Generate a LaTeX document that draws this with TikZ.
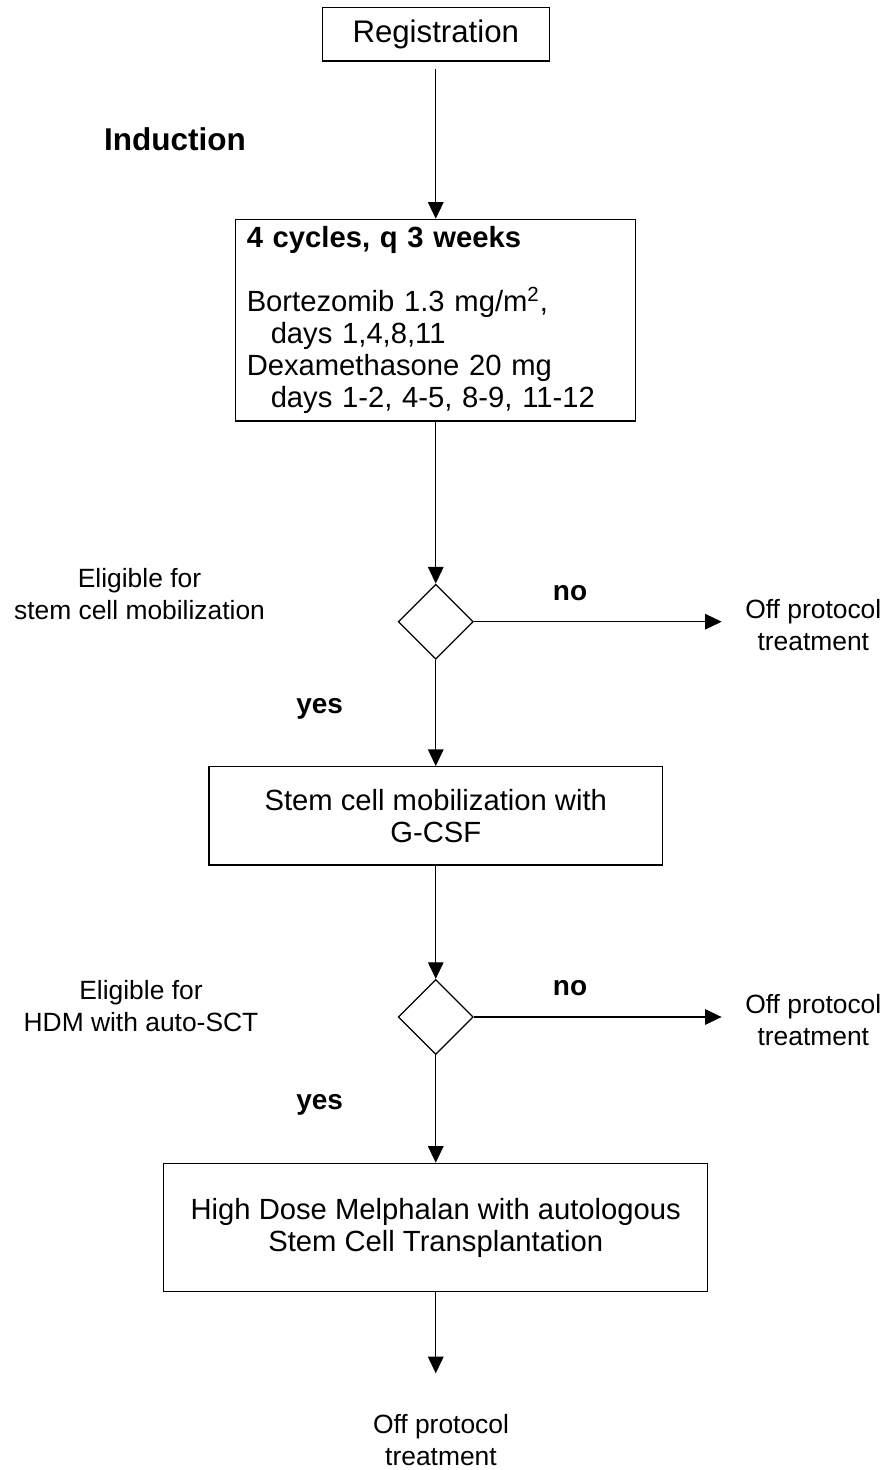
\documentclass[tikz,border=0pt]{standalone}
\usepackage{fontspec}
\setmainfont{Liberation Sans}
\usetikzlibrary{shapes.geometric,arrows.meta}

\begin{document}
\begin{tikzpicture}[x=0.5pt,y=-0.5pt,
	box/.style={draw,line width=0.65pt,inner sep=0pt},
	dia/.style={draw,diamond,line width=0.65pt,inner sep=0pt,minimum width=37.5pt,minimum height=37.5pt},
	arr/.style={line width=0.6pt,-{Triangle[length=8.3pt,width=7.8pt]}},
	boxfont/.style={font=\fontsize{14.6}{16}\selectfont},
	txt/.style={font=\fontsize{13.2}{16}\selectfont,align=center,inner sep=0pt,anchor=north},
	lbl/.style={font=\fontsize{14}{16}\selectfont\bfseries,inner sep=0pt,anchor=base}]
	%\draw[help lines] (0,0) grid[step=50] (887,1470);
	\useasboundingbox (0,0) rectangle (887,1470);
	\node[box,minimum width=113.5pt,minimum height=26.65pt,font=\fontsize{15.6}{18}\selectfont] (reg) at (435.75,34.35) {Registration};
	\node[lbl,font=\fontsize{15.75}{18}\selectfont\bfseries] (phase) at (174.9,150.7) {Induction};
	\node[box,boxfont,text width=189pt,inner xsep=5.5pt,align=left,minimum height=100.85pt] (ind) at (435.75,320.2) {\textbf{4 cycles, q 3 weeks}\\[16pt]
		Bortezomib 1.3 mg/m\textsuperscript{2},\\
		\hspace*{12pt}days 1,4,8,11\\
		Dexamethasone 20 mg\\
		\hspace*{12pt}days 1-2, 4-5, 8-9, 11-12};
	\node[dia] (q1) at (435.75,621.7) {};
	\node[txt] (elig1) at (139.5,567.7) {Eligible for\\stem cell mobilization};
	\node[txt] (off1) at (813.3,599) {Off protocol\\treatment};
	\node[lbl] (no1) at (570,600.7) {no};
	\node[lbl] (yes1) at (319.7,713.3) {yes};
	\node[box,boxfont,align=center,minimum width=226.85pt,minimum height=49.15pt] (mob) at (435.75,815.85) {Stem cell mobilization with\\G-CSF};
	\node[dia] (q2) at (435.75,1017) {};
	\node[txt] (elig2) at (141,980) {Eligible for\\HDM with auto-SCT};
	\node[txt] (off2) at (813.3,994.3) {Off protocol\\treatment};
	\node[lbl] (no2) at (570,995) {no};
	\node[lbl] (yes2) at (319.7,1109.3) {yes};
	\node[box,boxfont,align=center,minimum width=272pt,minimum height=64.2pt] (hdm) at (435.75,1227.5) {High Dose Melphalan with autologous\\Stem Cell Transplantation};
	\node[txt] (off3) at (441,1413.7) {Off protocol\\treatment};
	% connectors
	\draw[arr,shorten <=3.6pt] (reg) -- (ind);
	\draw[arr] (ind) -- (q1);
	\draw[arr,shorten >=11.65pt] (q1.east) -- (q1.east -| off1.west);
	\draw[arr] (q1) -- (mob);
	\draw[arr] (mob) -- (q2);
	\draw[arr,shorten >=11.65pt] (q2.east) -- (q2.east -| off2.west);
	\draw[arr] (q2) -- (hdm);
	\draw[arr,shorten >=20.2pt] (hdm) -- (hdm.south |- off3.north);
\end{tikzpicture}
\end{document}
